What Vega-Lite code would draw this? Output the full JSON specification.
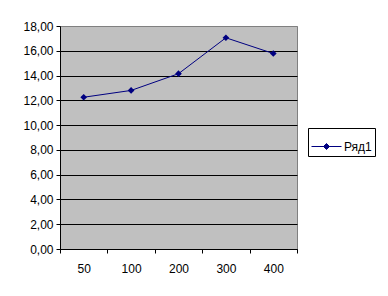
{
  "$schema": "https://vega.github.io/schema/vega-lite/v6.json",
  "width": 237,
  "height": 223,
  "autosize": "none",
  "padding": {"left": 60, "top": 26, "right": 91, "bottom": 47},
  "background": "white",
  "config": {
    "font": "Liberation Sans",
    "view": {"fill": "#C0C0C0", "stroke": "#808080", "strokeWidth": 1}
  },
  "data": {
    "values": [
      {"x": "50", "y": 12.25, "s": "Ряд1"},
      {"x": "100", "y": 12.8, "s": "Ряд1"},
      {"x": "200", "y": 14.15, "s": "Ряд1"},
      {"x": "300", "y": 17.05, "s": "Ряд1"},
      {"x": "400", "y": 15.78, "s": "Ряд1"}
    ]
  },
  "encoding": {
    "x": {
      "field": "x", "type": "ordinal", "sort": null,
      "scale": {"paddingInner": 0, "paddingOuter": 0},
      "axis": {
        "title": null, "labelAngle": 0, "labelFontSize": 12, "labelColor": "black",
        "labelPadding": 10, "tickBand": "extent", "tickSize": 4, "tickColor": "black",
        "domainColor": "black", "grid": false
      }
    },
    "y": {
      "field": "y", "type": "quantitative",
      "scale": {"domain": [0, 18], "nice": false, "zero": true},
      "axis": {
        "title": null, "values": [0, 2, 4, 6, 8, 10, 12, 14, 16, 18],
        "labelExpr": "replace(format(datum.value, '.2f'), '.', ',')",
        "labelFontSize": 12, "labelColor": "black", "labelPadding": 3,
        "tickSize": 4, "tickColor": "black", "domainColor": "black",
        "grid": true,
        "gridColor": {"condition": {"test": "datum.value == 18", "value": "#808080"}, "value": "black"},
        "gridOpacity": 1
      }
    },
    "color": {
      "field": "s", "type": "nominal",
      "scale": {"range": ["#000080"]},
      "legend": {
        "title": null, "orient": "none", "legendX": 248, "legendY": 102,
        "strokeColor": "black", "padding": 3, "labelFontSize": 12, "labelColor": "black",
        "symbolType": "M-1,0L1,0M0,-0.2L0.2,0L0,0.2L-0.2,0Z",
        "symbolSize": 900, "symbolStrokeWidth": 1, "symbolFillColor": "#000080",
        "symbolStrokeColor": "#000080", "labelOffset": 2
      }
    }
  },
  "layer": [
    {"mark": {"type": "line", "strokeWidth": 1}},
    {"mark": {"type": "point", "shape": "diamond", "filled": true, "size": 45, "opacity": 1}}
  ]
}
